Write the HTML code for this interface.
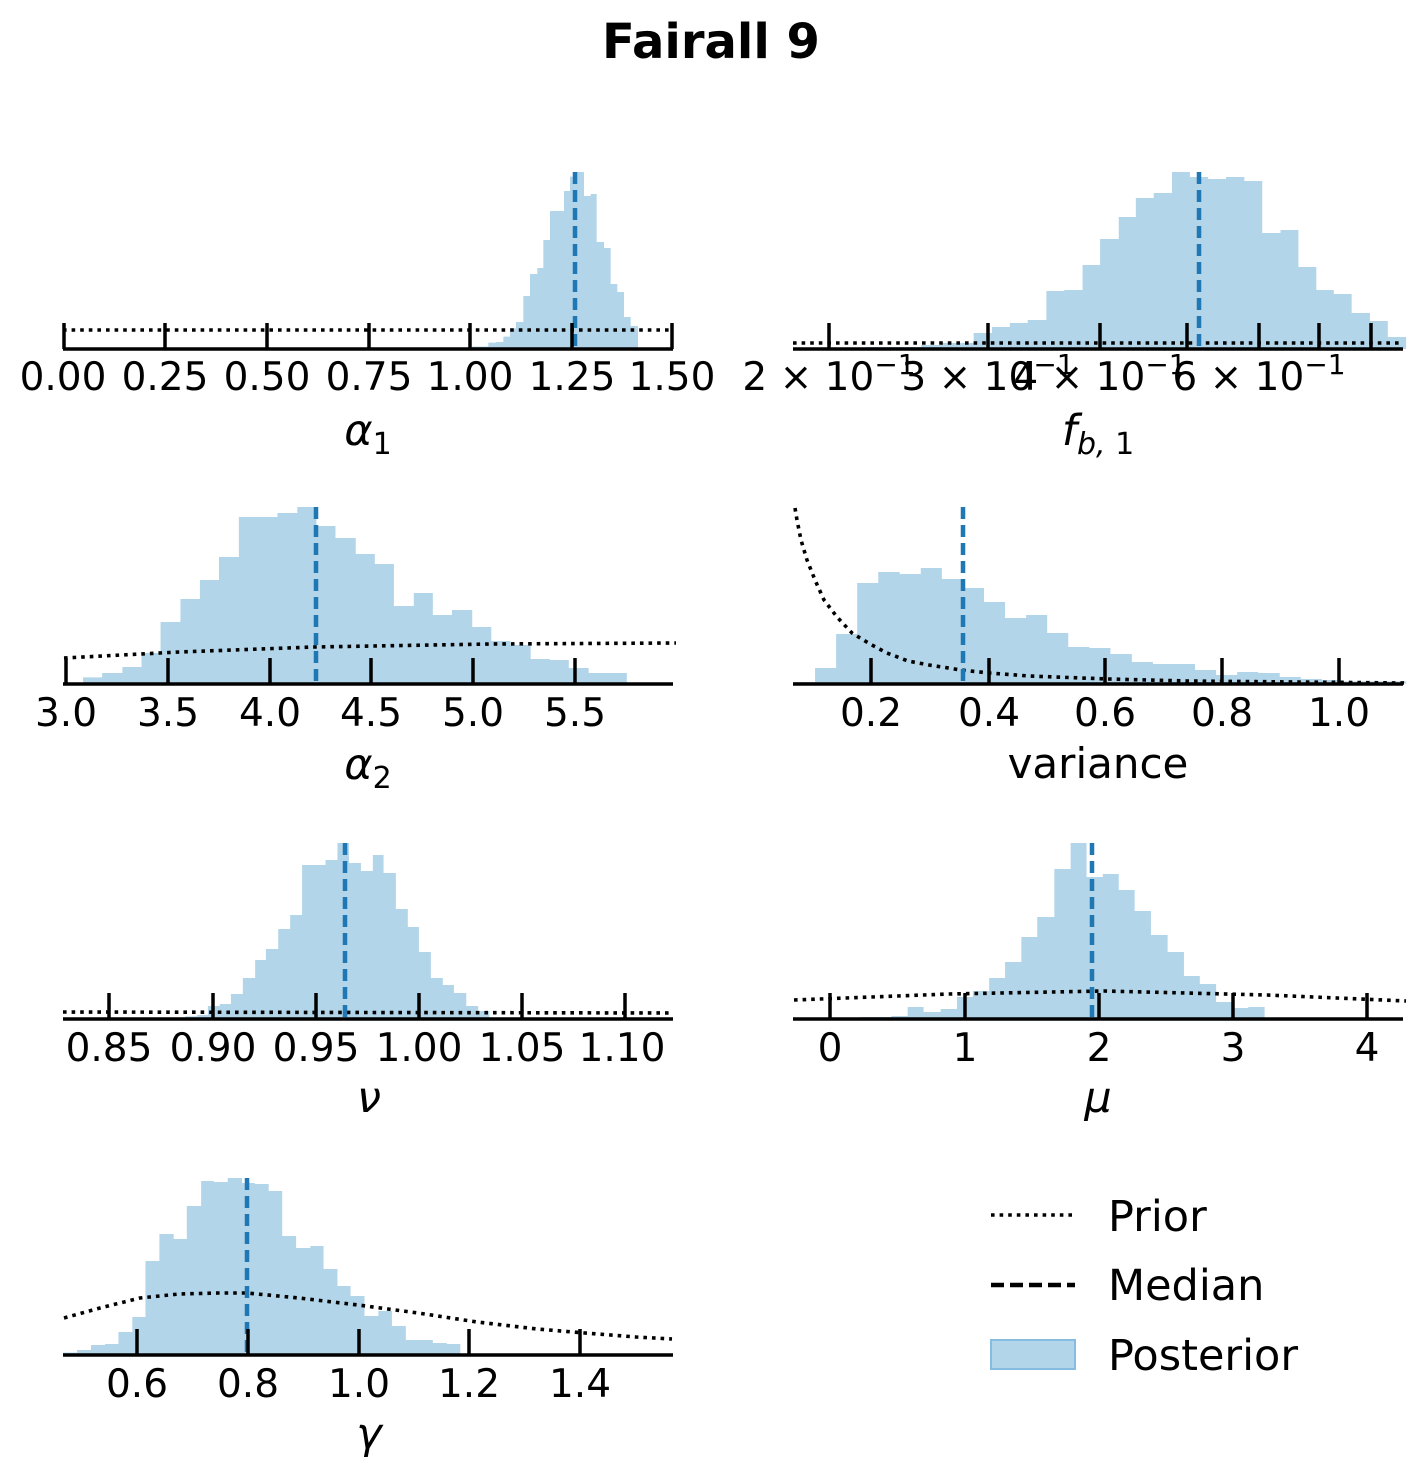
<!DOCTYPE html>
<html><head><meta charset="utf-8"><style>
html,body{margin:0;padding:0;background:#fff}
svg{display:block}
text{font-family:"DejaVu Sans","Liberation Sans",sans-serif;fill:#000}
.tl{font-size:39px;text-anchor:middle}
.xl{font-size:43px;text-anchor:middle;font-style:italic}
.h{fill:rgb(179,213,233)}
.ax{stroke:#000;stroke-width:3.5;fill:none}
.md{stroke:#1f77b4;stroke-width:4.5;stroke-dasharray:12 6;fill:none}
.pr{stroke:#000;stroke-width:3.6;stroke-dasharray:3.6 5;fill:none}
</style></head><body>
<svg width="1422" height="1476" viewBox="0 0 1422 1476" xmlns="http://www.w3.org/2000/svg">
<text x="711" y="58" style="font-size:48px;font-weight:bold;text-anchor:middle">Fairall 9</text>

<!-- alpha1 -->
<g transform="translate(460,160) scale(0.33333,0.33333)"><path class="h" d="M30 567 V560 H85 V548 H108 V546 H130 V530 H150 V505 H168 V486 H190 V408 H210 V342 H232 V324 H250 V240 H270 V153 H312 V93 H330 V50 H350 V36 H372 V108 H392 V102 H410 V246 H432 V264 H452 V372 H472 V396 H492 V471 H512 V498 H534 V567 Z"/></g>
<line class="pr" x1="63" y1="330" x2="673" y2="330"/>
<line class="md" x1="575" y1="172" x2="575" y2="349"/>
<path class="ax" d="M63 349 H673 M64 323 V349 M165 323 V349 M267 323 V349 M369 323 V349 M470 323 V349 M572 323 V349 M672 323 V349"/>
<text class="tl" x="63" y="390">0.00</text><text class="tl" x="165" y="390">0.25</text><text class="tl" x="267" y="390">0.50</text><text class="tl" x="369" y="390">0.75</text><text class="tl" x="470" y="390">1.00</text><text class="tl" x="572" y="390">1.25</text><text class="tl" x="672" y="390">1.50</text>
<text class="xl" x="368" y="445">α<tspan style="font-style:normal;font-size:30px" dy="9">1</tspan></text>

<!-- fb1 -->
<g transform="translate(790,160) scale(0.3975,0.33333)"><path class="h" d="M190 567 V561 H330 V555 H380 V549 H462 V519 H508 V501 H553 V489 H598 V480 H645 V393 H690 V390 H736 V315 H780 V237 H827 V171 H870 V114 H915 V99 H961 V36 H1006 V51 H1052 V57 H1097 V51 H1143 V63 H1188 V219 H1234 V210 H1279 V321 H1324 V390 H1368 V402 H1413 V459 H1459 V483 H1504 V531 H1550 V567 Z"/></g>
<line class="pr" x1="793" y1="343" x2="1403" y2="343"/>
<line class="md" x1="1199" y1="172" x2="1199" y2="349"/>
<path class="ax" d="M793 349 H1403 M829 323 V349 M988 323 V349 M1100 323 V349 M1187 323 V349 M1259 323 V349 M1319 323 V349 M1371 323 V349"/>
<text class="tl" x="829" y="390">2 × 10<tspan dy="-16" font-size="28">−1</tspan></text><text class="tl" x="988" y="390">3 × 10<tspan dy="-16" font-size="28">−1</tspan></text><text class="tl" x="1100" y="390">4 × 10<tspan dy="-16" font-size="28">−1</tspan></text><text class="tl" x="1259" y="390">6 × 10<tspan dy="-16" font-size="28">−1</tspan></text>
<text class="xl" x="1098" y="445">f<tspan style="font-size:30px" dy="9">b,</tspan><tspan style="font-style:normal;font-size:30px"> 1</tspan></text>

<!-- alpha2 -->
<g transform="translate(60,500) scale(0.3975,0.33333)"><path class="h" d="M58 550 V532 H106 V519 H157 V501 H205 V459 H253 V366 H303 V297 H352 V240 H400 V171 H450 V51 H547 V39 H597 V21 H645 V78 H693 V114 H744 V162 H792 V192 H840 V318 H890 V279 H938 V345 H986 V330 H1037 V381 H1085 V423 H1133 V435 H1184 V477 H1232 V480 H1280 V504 H1330 V519 H1426 V550 Z"/></g>
<polyline class="pr" points="64,658 179,652 314,647 491,644 676,643"/>
<line class="md" x1="316" y1="507" x2="316" y2="684"/>
<path class="ax" d="M63 684 H673 M66 658 V684 M168 658 V684 M270 658 V684 M371 658 V684 M473 658 V684 M575 658 V684"/>
<text class="tl" x="66" y="726">3.0</text><text class="tl" x="168" y="726">3.5</text><text class="tl" x="270" y="726">4.0</text><text class="tl" x="371" y="726">4.5</text><text class="tl" x="473" y="726">5.0</text><text class="tl" x="575" y="726">5.5</text>
<text class="xl" x="368" y="779">α<tspan style="font-style:normal;font-size:30px" dy="9">2</tspan></text>

<!-- variance -->
<g transform="translate(790,500) scale(0.3975,0.33333)"><path class="h" d="M10 550 V546 H63 V504 H116 V402 H169 V249 H222 V216 H276 V222 H329 V204 H382 V237 H435 V264 H488 V306 H541 V354 H594 V345 H647 V399 H700 V441 H753 V444 H806 V462 H860 V486 H913 V492 H1019 V510 H1072 V525 H1125 V516 H1178 V519 H1232 V531 H1285 V537 H1338 V540 H1392 V544 H1550 V550 Z"/></g>
<polyline class="pr" points="795,508 797,520 801,540 807,560 815,580 824,600 837,617 852,633 870,644 887,653 908,661 929,665 961,670 989,673 1029,676 1108,679 1188,681 1406,683"/>
<line class="md" x1="963" y1="507" x2="963" y2="684"/>
<path class="ax" d="M793 684 H1403 M871 658 V684 M989 658 V684 M1105 658 V684 M1222 658 V684 M1339 658 V684"/>
<text class="tl" x="871" y="726">0.2</text><text class="tl" x="989" y="726">0.4</text><text class="tl" x="1105" y="726">0.6</text><text class="tl" x="1222" y="726">0.8</text><text class="tl" x="1339" y="726">1.0</text>
<text x="1098" y="778" style="font-size:42px;text-anchor:middle">variance</text>

<!-- nu -->
<g transform="translate(60,835) scale(0.3975,0.33333)"><path class="h" d="M315 550 V544 H345 V540 H372 V513 H402 V507 H430 V477 H460 V429 H491 V375 H518 V342 H549 V282 H579 V240 H609 V90 H668 V75 H698 V24 H727 V84 H757 V108 H787 V60 H814 V114 H845 V222 H875 V276 H903 V351 H933 V429 H963 V450 H991 V474 H1022 V513 H1052 V528 H1080 V550 Z"/></g>
<line class="pr" x1="63" y1="1012" x2="673" y2="1013"/>
<line class="md" x1="345" y1="843" x2="345" y2="1019"/>
<path class="ax" d="M63 1019 H673 M109 993 V1019 M213 993 V1019 M316 993 V1019 M419 993 V1019 M522 993 V1019 M625 993 V1019"/>
<text class="tl" x="109" y="1061">0.85</text><text class="tl" x="213" y="1061">0.90</text><text class="tl" x="316" y="1061">0.95</text><text class="tl" x="419" y="1061">1.00</text><text class="tl" x="522" y="1061">1.05</text><text class="tl" x="622" y="1061">1.10</text>
<text class="xl" x="369" y="1112">ν</text>

<!-- mu -->
<g transform="translate(790,835) scale(0.3975,0.33333)"><path class="h" d="M175 550 V546 H255 V543 H296 V516 H336 V531 H379 V522 H420 V486 H460 V468 H501 V429 H541 V381 H582 V306 H622 V246 H665 V102 H706 V24 H746 V126 H787 V117 H827 V165 H867 V228 H908 V300 H950 V351 H991 V423 H1031 V447 H1072 V501 H1113 V519 H1153 V516 H1194 V550 Z"/></g>
<polyline class="pr" points="794,1000 949,994 1104,991 1267,995 1406,1001"/>
<line class="md" x1="1092" y1="843" x2="1092" y2="1019"/>
<path class="ax" d="M793 1019 H1403 M830 993 V1019 M965 993 V1019 M1099 993 V1019 M1233 993 V1019 M1367 993 V1019"/>
<text class="tl" x="830" y="1061">0</text><text class="tl" x="965" y="1061">1</text><text class="tl" x="1099" y="1061">2</text><text class="tl" x="1233" y="1061">3</text><text class="tl" x="1367" y="1061">4</text>
<text class="xl" x="1098" y="1112">μ</text>

<!-- gamma -->
<g transform="translate(60,1170) scale(0.3975,0.33333)"><path class="h" d="M8 552 V548 H43 V540 H78 V525 H113 V522 H147 V486 H182 V441 H215 V273 H250 V192 H286 V207 H319 V108 H355 V33 H387 V36 H422 V24 H458 V39 H490 V42 H525 V63 H559 V198 H594 V234 H630 V228 H663 V297 H698 V348 H731 V378 H766 V438 H801 V423 H835 V468 H870 V510 H938 V519 H973 V522 H1007 V552 Z"/></g>
<polyline class="pr" points="64,1318 100,1308 140,1298 179,1294 219,1293 247,1293 299,1298 358,1305 418,1313 477,1322 537,1329 585,1333 636,1337 672,1339"/>
<line class="md" x1="247" y1="1178" x2="247" y2="1355"/>
<path class="ax" d="M63 1355 H673 M137 1329 V1355 M248 1329 V1355 M359 1329 V1355 M469 1329 V1355 M580 1329 V1355"/>
<text class="tl" x="137" y="1397">0.6</text><text class="tl" x="248" y="1397">0.8</text><text class="tl" x="359" y="1397">1.0</text><text class="tl" x="469" y="1397">1.2</text><text class="tl" x="580" y="1397">1.4</text>
<text class="xl" x="369" y="1448">γ</text>

<!-- legend -->
<line class="pr" x1="991" y1="1215" x2="1075" y2="1215"/>
<line x1="991" y1="1285" x2="1075" y2="1285" stroke="#000" stroke-width="4.5" stroke-dasharray="13 6"/>
<rect x="991" y="1340" width="84" height="29" fill="rgb(179,213,233)" stroke="#86bce0" stroke-width="2"/>
<text x="1108" y="1231" style="font-size:43px">Prior</text>
<text x="1108" y="1300" style="font-size:43px">Median</text>
<text x="1108" y="1370" style="font-size:43px">Posterior</text>
</svg>
</body></html>
